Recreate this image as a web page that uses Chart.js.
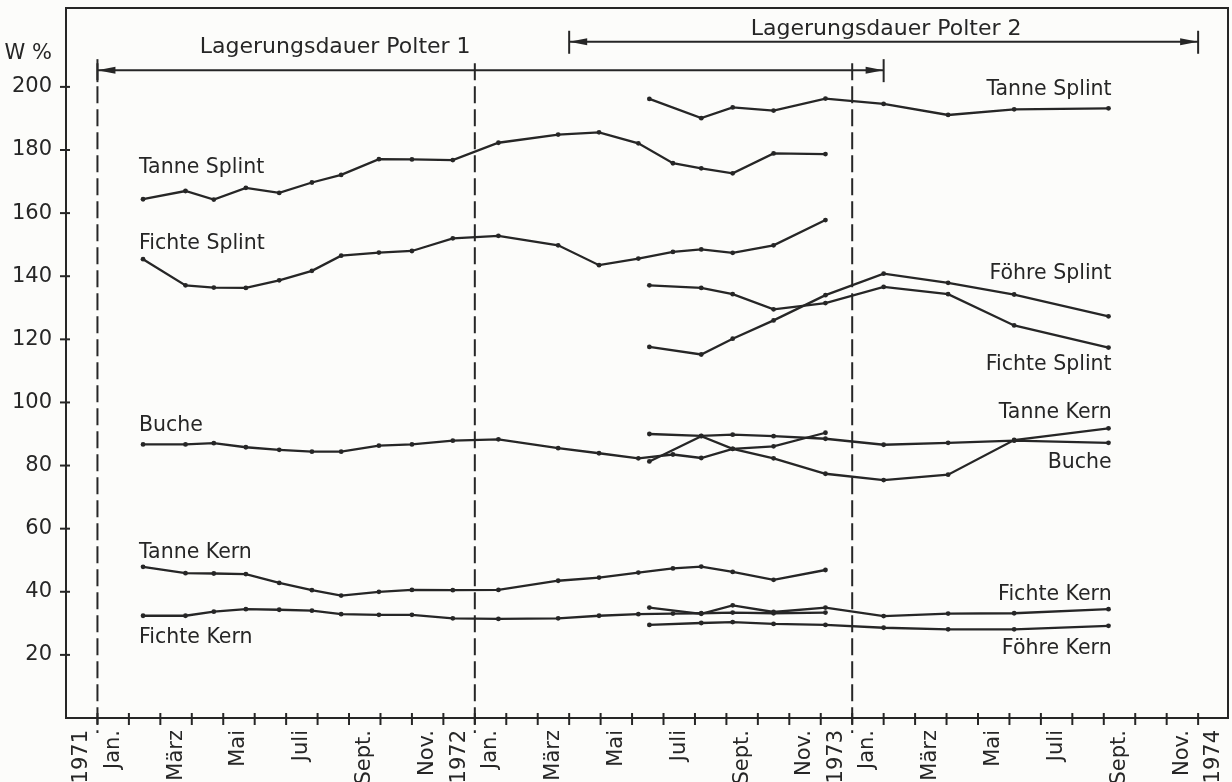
<!DOCTYPE html>
<html lang="de">
<head>
<meta charset="UTF-8">
<title>Wassergehalt im Polter</title>
<script src="https://cdn.jsdelivr.net/npm/chart.js"></script>
<style>
  html, body { margin: 0; padding: 0; background: #fcfcfa; }
  #wrap { width: 1232px; height: 782px; position: relative; }
</style>
</head>
<body>
<div id="wrap"><canvas id="chart"></canvas></div>
<script>
// sampling dates, months since 1 Jan 1971
const monthsP1 = [1.45, 2.8, 3.7, 4.72, 5.78, 6.82, 7.75, 8.95, 10.0, 11.3, 12.75, 14.65, 15.95, 17.2, 18.3, 19.2, 20.2, 21.5, 23.15];
const monthsP2 = [17.55, 19.2, 20.2, 21.5, 23.15, 25.0, 27.05, 29.15, 32.15];

// water content W % - Polter 1
const tanneSplintP1 = [164.4, 167.0, 164.3, 168.0, 166.4, 169.7, 172.1, 177.1, 177.0, 176.8, 182.3, 184.9, 185.6, 182.1, 175.8, 174.2, 172.6, 178.9, 178.7];
const fichteSplintP1 = [145.4, 137.1, 136.4, 136.3, 138.7, 141.7, 146.5, 147.5, 148.0, 152.0, 152.8, 149.8, 143.5, 145.6, 147.7, 148.5, 147.4, 149.8, 157.8];
const bucheP1 = [86.7, 86.7, 87.1, 85.8, 85.0, 84.4, 84.4, 86.3, 86.7, 87.9, 88.3, 85.5, 83.9, 82.3, 83.5, 82.4, 85.3, 86.1, 90.4];
const tanneKernP1 = [47.9, 45.9, 45.8, 45.6, 42.8, 40.5, 38.8, 40.0, 40.6, 40.5, 40.6, 43.5, 44.5, 46.1, 47.4, 48.0, 46.3, 43.8, 46.9];
const fichteKernP1 = [32.4, 32.4, 33.7, 34.5, 34.3, 34.0, 32.9, 32.7, 32.7, 31.6, 31.4, 31.6, 32.4, 32.9, 33.1, 33.2, 33.4, 33.2, 33.4];

// water content W % - Polter 2
const tanneSplintP2 = [196.2, 190.1, 193.5, 192.5, 196.3, 194.6, 191.1, 192.9, 193.2];
const foehreSplintP2 = [117.6, 115.2, 120.2, 126.0, 134.0, 140.8, 137.9, 134.2, 127.3];
const fichteSplintP2 = [137.1, 136.3, 134.3, 129.5, 131.5, 136.6, 134.3, 124.4, 117.4];
const tanneKernP2 = [81.3, 89.3, 85.3, 82.3, 77.4, 75.4, 77.1, 88.1, 91.8];
const bucheP2 = [90.0, 89.4, 89.8, 89.3, 88.5, 86.6, 87.2, 87.9, 87.2];
const fichteKernP2 = [35.0, 33.0, 35.7, 33.6, 35.0, 32.3, 33.1, 33.2, 34.5];
const foehreKernP2 = [29.5, 30.1, 30.4, 29.8, 29.5, 28.6, 28.1, 28.1, 29.2];

// axis labels
const xLabelPos = [-0.5, 0.5, 2.5, 4.5, 6.5, 8.5, 10.5, 11.5, 12.5, 14.5, 16.5, 18.5, 20.5, 22.5, 23.5, 24.5, 26.5, 28.5, 30.5, 32.5, 34.5, 35.5];
const xLabelText = ['1971', 'Jan.', 'März', 'Mai', 'Juli', 'Sept.', 'Nov.', '1972', 'Jan.', 'März', 'Mai', 'Juli', 'Sept.', 'Nov.', '1973', 'Jan.', 'März', 'Mai', 'Juli', 'Sept.', 'Nov.', '1974'];
const yTicks = [20, 40, 60, 80, 100, 120, 140, 160, 180, 200];
const yearStarts = [0, 12, 24];

// series names written into the plot
const leftNames = ['Tanne Splint', 'Fichte Splint', 'Buche', 'Tanne Kern', 'Fichte Kern'];
const leftNameAt = [174.4, 150.3, 92.6, 52.4, 25.4];
const rightNames = ['Tanne Splint', 'Föhre Splint', 'Fichte Splint', 'Tanne Kern', 'Buche', 'Fichte Kern', 'Föhre Kern'];
const rightNameAt = [199.2, 140.8, 112.0, 96.8, 80.9, 39.0, 21.9];

const ink = '#262626';
const font = '"DejaVu Sans", "Liberation Sans", sans-serif';

function pts(xs, ys) {
  return xs.map((x, i) => ({ x: x, y: ys[i] }));
}

const series = [
  [monthsP1, tanneSplintP1], [monthsP1, fichteSplintP1], [monthsP1, bucheP1],
  [monthsP1, tanneKernP1], [monthsP1, fichteKernP1],
  [monthsP2, tanneSplintP2], [monthsP2, foehreSplintP2], [monthsP2, fichteSplintP2],
  [monthsP2, tanneKernP2], [monthsP2, bucheP2], [monthsP2, fichteKernP2], [monthsP2, foehreKernP2]
];

const datasets = series.map(([xs, ys]) => ({
  data: pts(xs, ys),
  borderColor: ink,
  borderWidth: 2.3,
  pointRadius: 2.4,
  pointBackgroundColor: ink,
  pointBorderWidth: 0,
  tension: 0,
  fill: false
}));

function bracketArrow(ctx, x0, x1, yy) {
  ctx.beginPath(); ctx.moveTo(x0, yy); ctx.lineTo(x1, yy); ctx.stroke();
  [x0, x1].forEach(px => {
    ctx.beginPath(); ctx.moveTo(px, yy - 11); ctx.lineTo(px, yy + 12); ctx.stroke();
  });
  ctx.beginPath();
  ctx.moveTo(x0, yy); ctx.lineTo(x0 + 18, yy - 3.5); ctx.lineTo(x0 + 18, yy + 3.5); ctx.closePath();
  ctx.fill();
  ctx.beginPath();
  ctx.moveTo(x1, yy); ctx.lineTo(x1 - 18, yy - 3.5); ctx.lineTo(x1 - 18, yy + 3.5); ctx.closePath();
  ctx.fill();
}

const decorations = {
  id: 'decorations',
  beforeDatasetsDraw(chart) {
    const { ctx, chartArea: a, scales: { x, y } } = chart;
    ctx.save();
    ctx.strokeStyle = ink;
    ctx.fillStyle = ink;
    ctx.lineWidth = 2;

    // dashed year boundaries
    ctx.setLineDash([17, 6]);
    yearStarts.forEach(t => {
      const px = x.getPixelForValue(t);
      ctx.beginPath();
      ctx.moveTo(px, y.getPixelForValue(207.5));
      ctx.lineTo(px, a.bottom + 15);
      ctx.stroke();
    });
    ctx.setLineDash([]);

    // frame
    ctx.strokeRect(a.left, a.top, a.right - a.left, a.bottom - a.top);

    // tick marks crossing the axes
    for (let m = 0; m <= 35; m++) {
      const px = x.getPixelForValue(m);
      ctx.beginPath(); ctx.moveTo(px, a.bottom - 5); ctx.lineTo(px, a.bottom + 7); ctx.stroke();
    }
    yTicks.forEach(v => {
      const py = y.getPixelForValue(v);
      ctx.beginPath(); ctx.moveTo(a.left - 6, py); ctx.lineTo(a.left + 4, py); ctx.stroke();
    });

    // storage period brackets
    bracketArrow(ctx, x.getPixelForValue(0), x.getPixelForValue(25), y.getPixelForValue(205.3));
    bracketArrow(ctx, x.getPixelForValue(15), x.getPixelForValue(35), y.getPixelForValue(214.3));

    // texts
    ctx.textBaseline = 'middle';
    ctx.font = '22px ' + font;
    ctx.textAlign = 'center';
    ctx.fillText('Lagerungsdauer Polter 1', x.getPixelForValue(7.56), y.getPixelForValue(212.4));
    ctx.fillText('Lagerungsdauer Polter 2', x.getPixelForValue(25.08), y.getPixelForValue(218.4));

    ctx.font = '21px ' + font;
    ctx.textAlign = 'right';
    ctx.fillText('W %', a.left - 14, y.getPixelForValue(210.6));

    ctx.font = '20.5px ' + font;
    ctx.textAlign = 'left';
    leftNames.forEach((n, i) => ctx.fillText(n, x.getPixelForValue(1.32), y.getPixelForValue(leftNameAt[i])));
    ctx.textAlign = 'right';
    rightNames.forEach((n, i) => ctx.fillText(n, x.getPixelForValue(32.25), y.getPixelForValue(rightNameAt[i])));
    ctx.restore();
  }
};

new Chart(document.getElementById('chart'), {
  type: 'line',
  data: { datasets: datasets },
  options: {
    responsive: true,
    maintainAspectRatio: false,
    animation: false,
    layout: { padding: { top: 8, right: 1, left: 0, bottom: 0 } },
    plugins: { legend: { display: false }, tooltip: { enabled: false } },
    scales: {
      x: {
        type: 'linear',
        min: -1,
        max: 35.95,
        grid: { display: false, drawTicks: false },
        border: { display: false },
        afterBuildTicks: axis => { axis.ticks = xLabelPos.map(v => ({ value: v })); },
        afterFit: axis => { axis.height = 64; axis.paddingLeft = 0; axis.paddingRight = 0; },
        ticks: {
          autoSkip: false,
          maxRotation: 90,
          minRotation: 90,
          padding: 12,
          color: ink,
          font: { family: font, size: 21 },
          callback: (v, i) => xLabelText[i]
        }
      },
      y: {
        min: 0,
        max: 225,
        grid: { display: false, drawTicks: false },
        border: { display: false },
        afterBuildTicks: axis => { axis.ticks = yTicks.map(v => ({ value: v })); },
        afterFit: axis => { axis.width = 66; axis.paddingTop = 0; axis.paddingBottom = 0; },
        ticks: {
          padding: 14,
          color: ink,
          font: { family: font, size: 21 },
          callback: v => String(v)
        }
      }
    }
  },
  plugins: [decorations]
});
</script>
</body>
</html>
